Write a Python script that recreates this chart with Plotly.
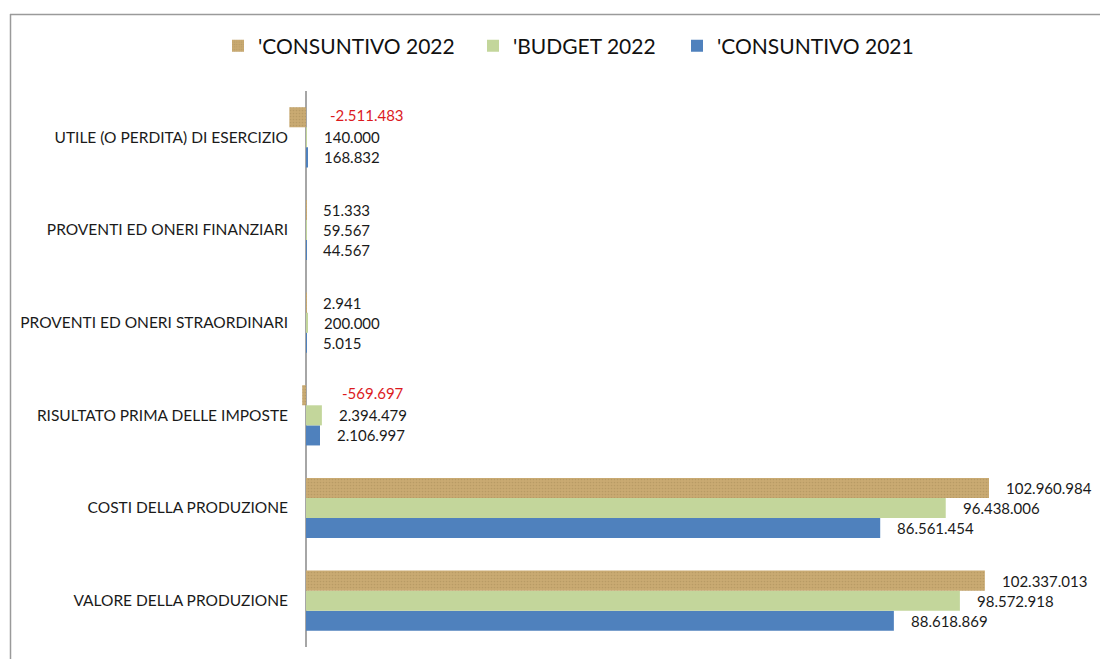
import plotly.graph_objects as go

categories = [
    "VALORE DELLA PRODUZIONE",
    "COSTI DELLA PRODUZIONE",
    "RISULTATO PRIMA DELLE IMPOSTE",
    "PROVENTI ED ONERI STRAORDINARI",
    "PROVENTI ED ONERI FINANZIARI",
    "UTILE (O PERDITA) DI ESERCIZIO",
]
consuntivo_2022 = [102337013, 102960984, -569697, 2941, 51333, -2511483]
budget_2022 = [98572918, 96438006, 2394479, 200000, 59567, 140000]
consuntivo_2021 = [88618869, 86561454, 2106997, 5015, 44567, 168832]

# (name, values, marker, label y-offset, legend id, legend swatch page-x)
series = [
    ("'CONSUNTIVO 2021", consuntivo_2021, dict(color="#4F81BD"), -20, "legend3", 692),
    ("'BUDGET 2022", budget_2022, dict(color="#C3D69B"), 0, "legend2", 488),
    ("'CONSUNTIVO 2022", consuntivo_2022,
     dict(color="#C9AA72",
          pattern=dict(shape=".", fillmode="overlay", fgcolor="#A88B58",
                       size=3, solidity=0.25)), 20, "legend", 233),
]

FONT = "Lato"
LABEL_SIZE = 15
fig = go.Figure()
for name, vals, marker, _, leg, _sx in series:
    fig.add_trace(go.Bar(
        y=categories, x=vals, name=name, orientation="h",
        marker=dict(line=dict(width=0), **marker),
        hoverinfo="x+name", legend=leg,
    ))

def fmt(v):
    return f"{v:,}".replace(",", ".")

annotations = []
for name, vals, marker, yshift, _leg, _sx in series:
    for cat, v in zip(categories, vals):
        if v >= 0:
            annotations.append(dict(
                x=v, y=cat, xref="x", yref="y", text=fmt(v), showarrow=False,
                xanchor="left", xshift=15, yshift=yshift,
                font=dict(family=FONT, size=LABEL_SIZE, color="#1a1a1a")))
        else:
            annotations.append(dict(
                x=0, y=cat, xref="x", yref="y", text=fmt(v), showarrow=False,
                xanchor="right", xshift=100, yshift=yshift + 2,
                font=dict(family=FONT, size=LABEL_SIZE, color="#DC1A1E")))

# page offset of the figure (default body margin)
OFF = 8
W, H = 1108, 659
L, R, T, B = 289 - OFF, 8 + OFF, 91 - OFF, 12 + OFF
pw, ph = W - L - R, H - T - B

def px_x(p):
    return (p - OFF - L) / pw

def px_y(p):
    return 1 - (p - OFF - T) / ph

shapes = [
    dict(type="line", xref="paper", yref="paper",
         x0=px_x(10), x1=px_x(1130), y0=px_y(14.5), y1=px_y(14.5),
         line=dict(color="#9A9A9A", width=1.5)),
    dict(type="line", xref="paper", yref="paper",
         x0=px_x(10.5), x1=px_x(10.5), y0=px_y(14), y1=px_y(700),
         line=dict(color="#9A9A9A", width=1.5)),
]

span_per_px = 102960984 / 683.0
xmin = -(306 - 289) * span_per_px
xmax = xmin + pw * span_per_px

def legend_at(swatch_x):
    return dict(orientation="h", xref="container", yref="container",
                x=(swatch_x - OFF - 15) / W, y=1 - (46 - OFF) / H,
                xanchor="left", yanchor="middle",
                font=dict(family=FONT, size=21, color="#111111"),
                itemwidth=30, bgcolor="rgba(0,0,0,0)")

legends = {leg: legend_at(sx) for _n, _v, _m, _y, leg, sx in series}

fig.update_layout(
    width=W, height=H,
    margin=dict(l=L, r=R, t=T, b=B),
    paper_bgcolor="white", plot_bgcolor="white",
    barmode="group", bargap=0.35, bargroupgap=0,
    font=dict(family=FONT, size=LABEL_SIZE, color="#1a1a1a"),
    showlegend=True,
    xaxis=dict(range=[xmin, xmax], showgrid=False, showticklabels=False,
               zeroline=True, zerolinecolor="#A6A6A6", zerolinewidth=1.5,
               showline=False, ticks=""),
    yaxis=dict(type="category", categoryorder="array", categoryarray=categories,
               showgrid=False, showline=False, ticks="", zeroline=False,
               tickfont=dict(family=FONT, size=LABEL_SIZE + 0.5, color="#1a1a1a"),
               ticklabelstandoff=0),
    annotations=annotations,
    shapes=shapes,
    **legends,
)

fig.write_html("out.html")
